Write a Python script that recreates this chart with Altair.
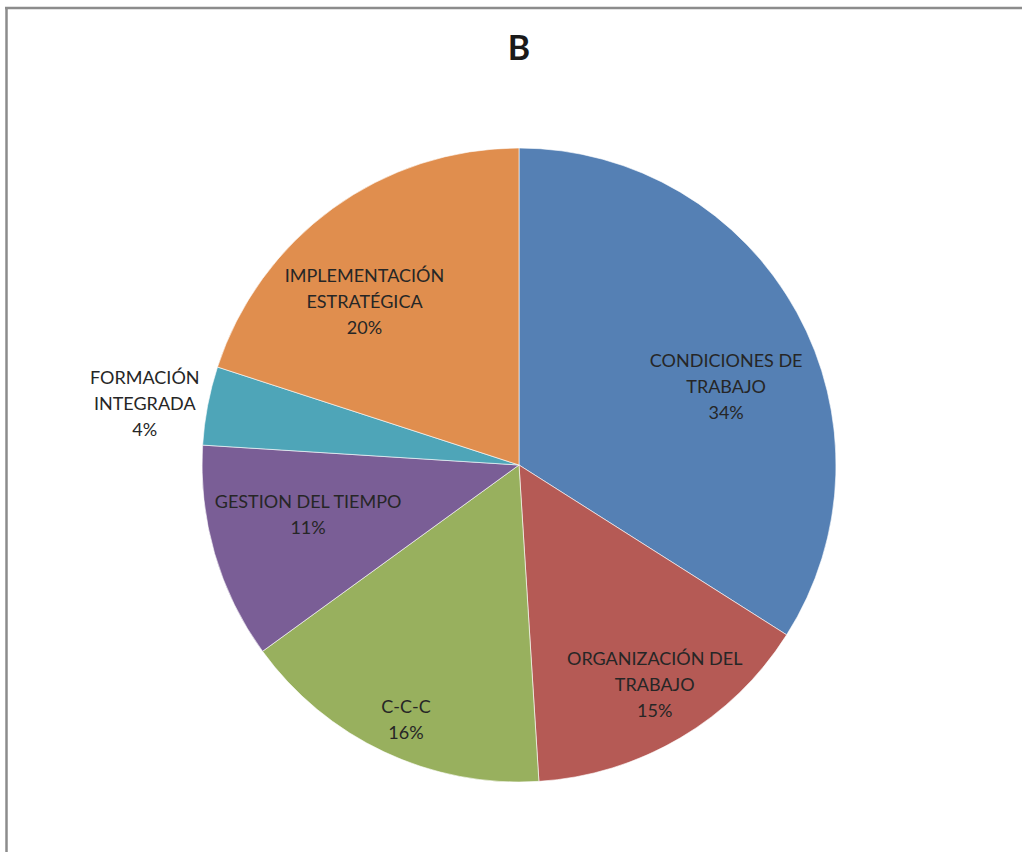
import altair as alt
import pandas as pd

# ---- data ----
categories = ["CONDICIONES DE TRABAJO", "ORGANIZACIÓN DEL TRABAJO", "C-C-C",
              "GESTION DEL TIEMPO", "FORMACIÓN INTEGRADA", "IMPLEMENTACIÓN ESTRATÉGICA"]
label_lines = ["CONDICIONES DE\nTRABAJO", "ORGANIZACIÓN DEL\nTRABAJO", "C-C-C",
               "GESTION DEL TIEMPO", "FORMACIÓN\nINTEGRADA", "IMPLEMENTACIÓN\nESTRATÉGICA"]
values = [34, 15, 16, 11, 4, 20]
title_text = "B"

colors = ["#5580B4", "#B55A55", "#98B05E", "#7A5E96", "#4EA5B8", "#E08E4E"]

df = pd.DataFrame({
    "idx": list(range(len(categories))),
    "cat": categories,
    "lines": label_lines,
    "value": values,
})

CX, CY, R = 519, 465, 317
FONT = "Lato"
LH = 26

# label placement (style): radius and angular nudge per slice, in slice order
label_r = [221, 259, 280, 217, 379, 224]
label_da = [8.4, -1.0, -1.4, 2.6, -1.7, -7.6]
r_expr = "[" + ",".join(str(v) for v in label_r) + "][datum.idx]"
da_expr = "[" + ",".join(str(v) for v in label_da) + "][datum.idx]"

pie = alt.Chart(df).mark_arc(radius=R, stroke="#ffffff", strokeWidth=0.6).encode(
    theta=alt.Theta("value:Q", stack=True),
    order=alt.Order("idx:Q"),
    color=alt.Color("cat:N", scale=alt.Scale(domain=categories, range=colors), legend=None),
    x=alt.value(CX),
    y=alt.value(CY),
)

labels = alt.Chart(df).transform_joinaggregate(
    total="sum(value)"
).transform_window(
    cum="sum(value)", sort=[alt.SortField("idx")], frame=[None, 0]
).transform_calculate(
    mid=f"(datum.cum - datum.value/2)/datum.total*2*PI + ({da_expr})*PI/180",
    lr=r_expr,
    label="datum.lines + '\\n' + datum.value + '%'",
).transform_calculate(
    nl="length(split(datum.label, '\\n'))",
).transform_calculate(
    lx=f"{CX} + datum.lr*sin(datum.mid)",
    ly=f"{CY} - datum.lr*cos(datum.mid) - (datum.nl - 1)*{LH}/2",
).mark_text(
    font=FONT, fontSize=18, color="#262626", lineBreak="\n", lineHeight=LH,
    align="center", baseline="middle",
).encode(
    x=alt.X("lx:Q", scale=None, axis=None),
    y=alt.Y("ly:Q", scale=None, axis=None),
    text="label:N",
)

title = alt.Chart(pd.DataFrame({"t": [title_text]})).mark_text(
    font=FONT, fontSize=34, fontWeight="bold", color="#1a1a1a", baseline="middle"
).encode(x=alt.value(519), y=alt.value(50), text="t:N")

one = pd.DataFrame({"a": [0]})
frame_left = alt.Chart(one).mark_rule(color="#8c8c8c", strokeWidth=2.5).encode(
    x=alt.value(6.5), y=alt.value(7), y2=alt.value(852))
frame_top = alt.Chart(one).mark_rule(color="#8c8c8c", strokeWidth=2.5).encode(
    x=alt.value(5), x2=alt.value(1022), y=alt.value(8))

chart = alt.layer(pie, labels, title, frame_left, frame_top).properties(
    width=1022, height=852, padding=0, autosize=alt.AutoSizeParams(type="none"),
    background="#ffffff",
).configure_view(stroke=None)

chart.save("out.html", embed_options={"renderer": "svg", "actions": False})
